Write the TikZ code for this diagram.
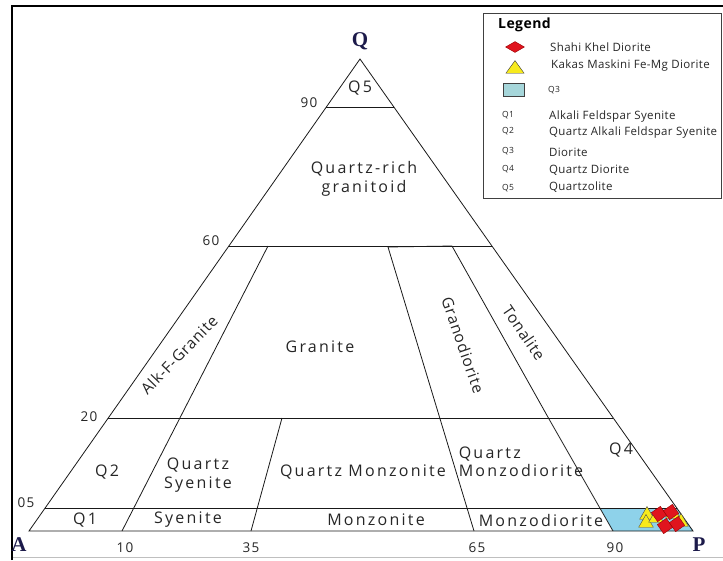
\documentclass[tikz,border=0pt]{standalone}
\usepackage{fontspec}
\setmainfont{Open Sans}
\newfontfamily\regfont[LetterSpace=14]{Open Sans}
\newfontfamily\rotfont[LetterSpace=5]{Open Sans}
\newfontfamily\tickfont[LetterSpace=8]{Open Sans}
\newfontfamily\legfont[LetterSpace=3]{Open Sans}
\newfontfamily\vtxfont{Liberation Serif}
\usetikzlibrary{calc,shapes.geometric}
\definecolor{navy}{HTML}{1C1A4A}
\definecolor{qthree}{HTML}{8ED2EA}
\definecolor{legblue}{HTML}{A6D6DA}
\definecolor{mred}{HTML}{E0141E}
\definecolor{myel}{HTML}{F7EA1C}
\tikzset{
  edge/.style={draw=black!90, line width=0.8pt},
  region/.style={font=\regfont\fontsize{16}{18.5}\selectfont, text=black!85, align=center, inner sep=0pt},
  rotlabel/.style={font=\rotfont\fontsize{15.5}{18}\selectfont, text=black!85, inner sep=0pt},
  tick/.style={font=\tickfont\fontsize{13.5}{15}\selectfont, text=black!85, inner sep=0pt},
  vertex/.style={font=\vtxfont\bfseries\fontsize{21}{22}\selectfont, text=navy, inner sep=0pt},
  legtext/.style={font=\legfont\fontsize{11.5}{13}\selectfont, text=black!85, anchor=west, inner sep=0pt},
  legkey/.style={font=\legfont\fontsize{8.5}{10}\selectfont, text=black!85, inner sep=0pt},
  rdiam/.style={draw=red!60!black, fill=mred, line width=0.4pt, minimum size=11pt, inner sep=0pt, rotate=35},
  ytri/.style={regular polygon, regular polygon sides=3, draw=black!70, fill=myel, line width=0.4pt, minimum size=17pt, inner sep=0pt},
}
\begin{document}
\begin{tikzpicture}[x=1pt,y=-1pt]
\useasboundingbox (0,0) rectangle (723,560);
% frame
\coordinate (fbl) at (12,560);
\coordinate (ftl) at (12,6);
\coordinate (ftr) at (723,6);
\coordinate (bbl) at (12,557);
\coordinate (bbr) at (723,557);
\draw[black!25, line width=1pt] (bbl) -- (bbr);
\draw[black, line width=2.2pt] (fbl) -- (ftl) -- (ftr);
% vertices
\coordinate (A) at (29,531);
\coordinate (P) at (693,531);
\coordinate (Q) at (360,59);
% horizontal division points
\coordinate (l90) at ($(A)!0.8983!(Q)$);
\coordinate (r90) at ($(P)!0.8983!(Q)$);
\coordinate (l60) at ($(A)!0.6038!(Q)$);
\coordinate (r60) at ($(P)!0.6038!(Q)$);
\coordinate (l20) at ($(A)!0.2394!(Q)$);
\coordinate (r20) at ($(P)!0.2394!(Q)$);
\coordinate (l05) at ($(A)!0.0487!(Q)$);
\coordinate (r05) at ($(P)!0.0487!(Q)$);
% inner lines
\coordinate (b10) at (122,531);
\coordinate (t10) at (268,246);
\coordinate (b35) at (251,531);
\coordinate (t35) at (282,418);
\coordinate (b65) at (474,531);
\coordinate (t65) at (388,247);
\coordinate (b90) at (613,531);
\coordinate (m90) at (549,419);
\coordinate (t90) at (452,246);
\coordinate (s90) at (600,508);
% Q3 fill
\fill[qthree] (s90) -- (b90) -- (P) -- (r05) -- cycle;
% triangle and lines
\draw[edge] (A) -- (Q) -- (P) -- cycle;
\draw[edge] (l90) -- (r90);
\draw[edge] (l60) -- (r60);
\draw[edge] (l20) -- (r20);
\draw[edge] (l05) -- (r05);
\draw[edge] (b10) -- (t10);
\draw[edge] (b35) -- (t35);
\draw[edge] (b65) -- (t65) -- (t90);
\draw[edge] (b90) -- (m90) -- (t90);
% vertex labels
\node[vertex] (lQ) at (360,41) {Q};
\node[vertex] (lA) at (19,545) {A};
\node[vertex] (lP) at (699,545) {P};
% ticks
\node[tick] (n90) at (309,103) {90};
\node[tick] (n60) at (211,241) {60};
\node[tick] (n20) at (89,417) {20};
\node[tick] (n05) at (26,503) {05};
\node[tick] (n10) at (125,548) {10};
\node[tick] (n35) at (251,548) {35};
\node[tick] (n65) at (477,548) {65};
\node[tick] (n90b) at (615,548) {90};
% region labels
\node[region] (rQ5) at (360,88) {Q5};
\node[region] (rQR) at (364,179) {Quartz-rich\\granitoid};
\node[region] (rGr) at (320,347) {Granite};
\node[rotlabel, rotate=46] (rAlk) at (179,355) {Alk-F-Granite};
\node[rotlabel, rotate=-71] (rGd) at (463,345) {Granodiorite};
\node[rotlabel, rotate=-56] (rTo) at (524,333) {Tonalite};
\node[region] (rQ2) at (107,472) {Q2};
\node[region] (rQS) at (198,475) {Quartz\\Syenite};
\node[region] (rQM) at (363,472) {Quartz Monzonite};
\node[region, align=left] (rQMd) at (521,462) {Quartz\\Monzodiorite};
\node[region] (rQ4) at (621,450) {Q4};
\node[region] (rQ1) at (85,520) {Q1};
\node[region] (rSy) at (188,520) {Syenite};
\node[region] (rMz) at (376,520) {Monzonite};
\node[region] (rMd) at (541,520) {Monzodiorite};
% data markers
\node[ytri] (y1) at (647,515) {};
\node[ytri] (y2) at (646,523) {};
\node[ytri] (y3) at (656,518) {};
\node[ytri] (y4) at (673,514) {};
\node[ytri] (y5) at (681,522) {};
\node[rdiam] (d1) at (659,514) {};
\node[rdiam] (d2) at (671,512) {};
\node[rdiam] (d3) at (665,526) {};
\node[rdiam] (d4) at (677,524) {};
% legend
\node[draw=black!75, line width=0.8pt, minimum width=238pt, minimum height=185pt, anchor=north west, inner sep=0pt] (leg) at (483,13) {};
\node[font=\legfont\bfseries\fontsize{14}{16}\selectfont, anchor=west, inner sep=0pt] (legT) at (498,25) {Legend};
\node[diamond, draw=red!60!black, fill=mred, minimum width=19pt, minimum height=11pt, inner sep=0pt, aspect=1.8] (kd) at (515,47) {};
\node[legtext] (td) at (550,47) {Shahi Khel Diorite};
\node[regular polygon, regular polygon sides=3, draw=black!80, fill=myel, minimum size=21pt, inner sep=0pt, yscale=0.8] (kt) at (515,69) {};
\node[legtext] (tt) at (551,66) {Kakas Maskini Fe-Mg Diorite};
\node[draw=black!75, fill=legblue, minimum width=21pt, minimum height=13pt, inner sep=0pt] (kr) at (514,90) {};
\node[legkey, anchor=west] (tr) at (548,90) {Q3};
\node[legkey] (k1) at (508,115) {Q1};
\node[legtext] (t1) at (549,117) {Alkali Feldspar Syenite};
\node[legkey] (k2) at (508,131) {Q2};
\node[legtext] (t2) at (549,133) {Quartz Alkali Feldspar Syenite};
\node[legkey] (k3) at (508,151) {Q3};
\node[legtext] (t3) at (549,152) {Diorite};
\node[legkey] (k4) at (508,169) {Q4};
\node[legtext] (t4) at (549,170) {Quartz Diorite};
\node[legkey] (k5) at (508,188) {Q5};
\node[legtext] (t5) at (549,187) {Quartzolite};
\end{tikzpicture}
\end{document}
